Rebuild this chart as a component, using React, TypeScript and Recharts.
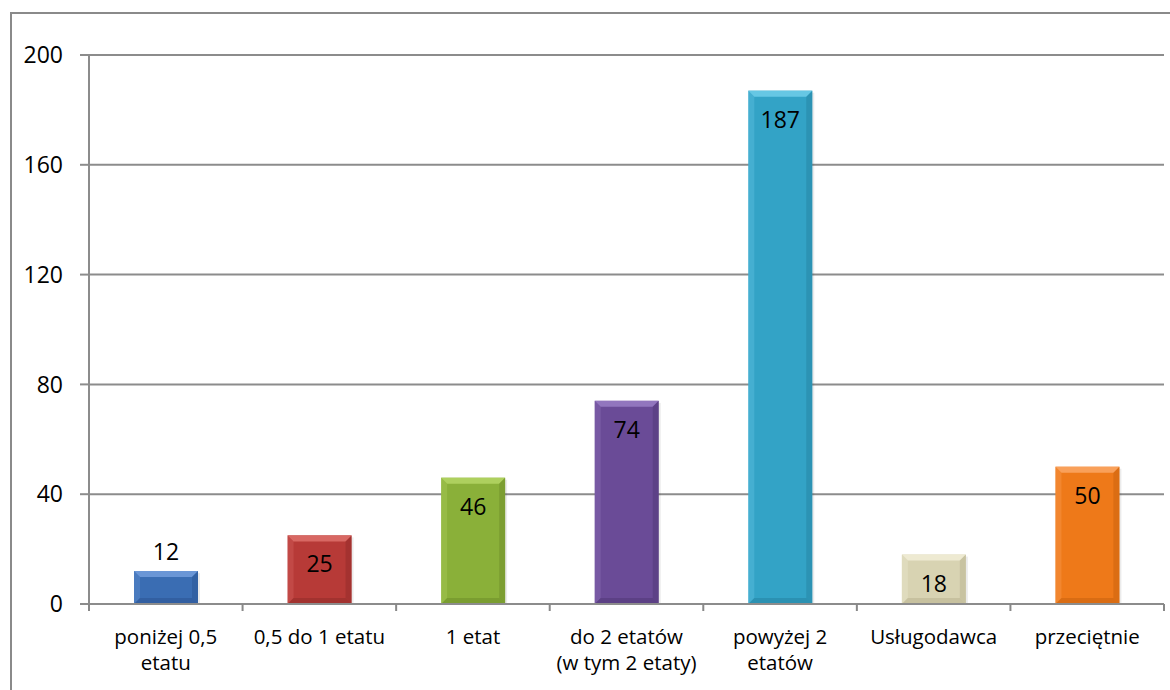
import React from 'react';
import { BarChart, Bar, XAxis, YAxis, CartesianGrid, Cell, LabelList } from 'recharts';

const categories = [
    'poniżej 0,5\netatu',
    '0,5 do 1 etatu',
    '1 etat',
    'do 2 etatów\n(w tym 2 etaty)',
    'powyżej 2\netatów',
    'Usługodawca',
    'przeciętnie',
];
const values = [12, 25, 46, 74, 187, 18, 50];
const barColors = ['#3A6DB3', '#B73A37', '#8AB039', '#6A4B97', '#33A3C6', '#D8D3B2', '#EE7919'];
const barLights = ['#6A96D6', '#D86863', '#AED05E', '#9276BE', '#66C7E4', '#EEEAD2', '#F9A05A'];
const barDarks = ['#2A5290', '#8E2A28', '#6A8A28', '#4E3673', '#23809E', '#B5AF8C', '#C45F0E'];
const yTicks = [0, 40, 80, 120, 160, 200];

const data = categories.map((name, i) => ({ name, value: values[i] }));

const W = 1170;
const H = 690;
const M = { top: 55, right: 6, left: 0, bottom: 0 };
const Y_W = 89;
const FONT = '"Open Sans", "Noto Sans", sans-serif';
const band = (W - M.left - M.right - Y_W) / categories.length;

const BevelBar = (props: any) => {
    const { x, y, width, height, index } = props;
    if (!height || height <= 0) return null;
    const c = barColors[index];
    const lt = barLights[index];
    const dk = barDarks[index];
    const b = Math.min(6, height / 3);
    return (
        <g>
            <rect x={x + 2} y={y + 2} width={width} height={height - 2} fill="#000" opacity={0.08} />
            <rect x={x} y={y} width={width} height={height} fill={c} />
            <polygon points={`${x},${y} ${x + width},${y} ${x + width - b},${y + b} ${x + b},${y + b}`} fill={lt} />
            <polygon points={`${x},${y} ${x + b},${y + b} ${x + b},${y + height - b} ${x},${y + height}`} fill={lt} opacity={0.35} />
            <polygon points={`${x + width},${y} ${x + width - b},${y + b} ${x + width - b},${y + height - b} ${x + width},${y + height}`} fill={dk} opacity={0.45} />
            <polygon points={`${x},${y + height} ${x + b},${y + height - b} ${x + width - b},${y + height - b} ${x + width},${y + height}`} fill={dk} opacity={0.5} />
        </g>
    );
};

const ValueLabel = (props: any) => {
    const { x, y, width, height, value } = props;
    const inside = height > 40;
    const cy = inside ? y + 28 : y - 20;
    return (
        <text x={x + width / 2} y={cy} textAnchor="middle" dominantBaseline="central" fontFamily={FONT} fontSize={23} fill="#000">
            {value}
        </text>
    );
};

const CategoryTick = (props: any) => {
    const { x, y, payload, index } = props;
    const lines = String(payload.value).split('\n');
    const left = x - band / 2;
    return (
        <g>
            <line x1={left} y1={y - 8} x2={left} y2={y - 1} stroke="#888" strokeWidth={2} />
            {index === categories.length - 1 && (
                <line x1={x + band / 2} y1={y - 8} x2={x + band / 2} y2={y - 1} stroke="#888" strokeWidth={2} />
            )}
            {lines.map((ln, i) => (
                <text key={i} x={x} y={y + 24 + i * 26} textAnchor="middle" dominantBaseline="central" fontFamily={FONT} fontSize={20.5} fill="#000">
                    {ln}
                </text>
            ))}
        </g>
    );
};

export default function App() {
    return (
        <div style={{ position: 'absolute', left: 0, top: 0, width: W, height: H, overflow: 'hidden', background: '#fff' }}>
            <div style={{ position: 'absolute', left: 10, top: 12, width: W, height: H, border: '2px solid #8a8a8a' }} />
            <div style={{ position: 'absolute', left: 0, top: 0 }}>
                <BarChart width={W} height={H} data={data} margin={M} barCategoryGap={45}>
                    <CartesianGrid vertical={false} stroke="#8c8c8c" strokeWidth={2} />
                    <XAxis
                        dataKey="name"
                        interval={0}
                        height={86}
                        tickLine={false}
                        axisLine={{ stroke: '#8c8c8c', strokeWidth: 2 }}
                        tick={<CategoryTick />}
                    />
                    <YAxis
                        domain={[0, 200]}
                        ticks={yTicks}
                        width={Y_W}
                        tickSize={9}
                        tickMargin={17}
                        tickLine={{ stroke: '#8c8c8c', strokeWidth: 2 }}
                        axisLine={{ stroke: '#8c8c8c', strokeWidth: 2 }}
                        tick={{ fontFamily: FONT, fontSize: 23, fill: '#000' }}
                    />
                    <Bar dataKey="value" shape={<BevelBar />} isAnimationActive={false}>
                        {data.map((d, i) => (
                            <Cell key={d.name} fill={barColors[i]} />
                        ))}
                        <LabelList dataKey="value" content={<ValueLabel />} />
                    </Bar>
                </BarChart>
            </div>
        </div>
    );
}
